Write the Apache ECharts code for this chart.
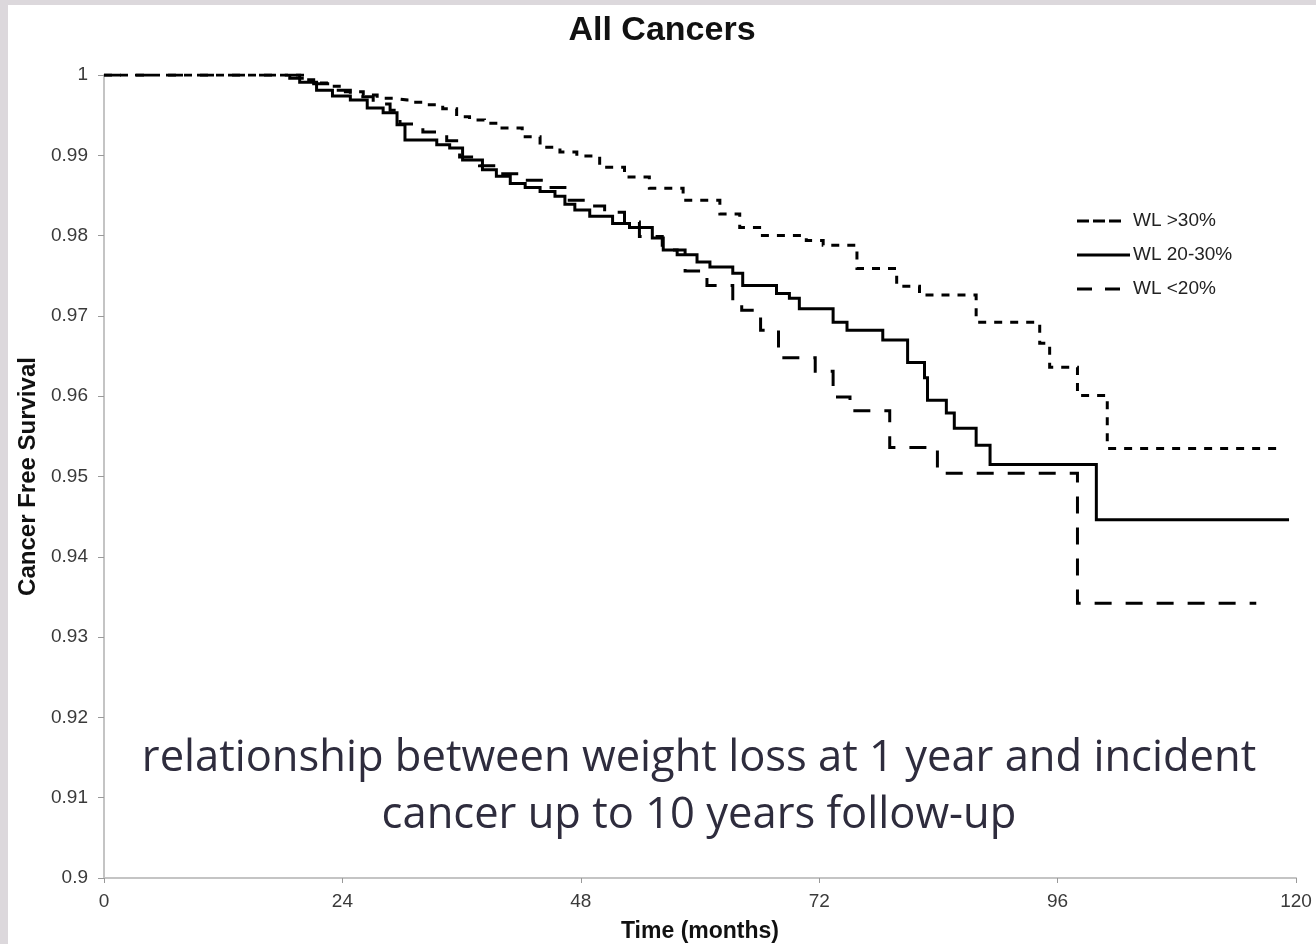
<!DOCTYPE html>
<html>
<head>
<meta charset="utf-8">
<script src="https://cdn.jsdelivr.net/npm/echarts@6/dist/echarts.min.js"></script>
<style>
  html, body { margin: 0; padding: 0; background: #dcd8dc; width: 1316px; height: 944px; overflow: hidden; }
  #chart { position: absolute; left: 8px; top: 5px; width: 1308px; height: 939px; background: #fff; }
</style>
</head>
<body>
<div id="chart"></div>
<script>
// Kaplan-Meier style step curves: each point is the month of a drop and the new survival level.
const seriesNames = ['WL >30%', 'WL 20-30%', 'WL <20%'];

const monthsOver30 = [0, 18.7, 20.2, 21.4, 22.7, 24.3, 26.1, 27.5, 29.1, 30.5, 32.1, 34.1, 35.5, 36.8, 38.3, 39.8, 42.1, 43.9, 45.9, 47.6, 49.9, 52.4, 54.9, 58.3, 62.0, 64.0, 66.0, 70.7, 72.4, 75.8, 79.8, 82.1, 87.8, 94.2, 95.2, 98.0, 101.0, 118.0];
const survOver30   = [1, 1, 0.9994, 0.9990, 0.9986, 0.9979, 0.9975, 0.9971, 0.9969, 0.9966, 0.9963, 0.9958, 0.9948, 0.9944, 0.9940, 0.9934, 0.9923, 0.9910, 0.9904, 0.9899, 0.9885, 0.9873, 0.9859, 0.9844, 0.9827, 0.9810, 0.9800, 0.9794, 0.9788, 0.9759, 0.9737, 0.9726, 0.9692, 0.9666, 0.9636, 0.9601, 0.9535, 0.9535];

const months20to30 = [18.2, 19.7, 21.4, 23.0, 24.8, 26.5, 28.1, 29.5, 30.3, 33.5, 34.8, 36.1, 38.1, 39.5, 40.9, 42.4, 43.9, 45.4, 46.4, 47.4, 48.9, 51.2, 52.9, 55.2, 56.3, 57.7, 59.7, 61.0, 63.3, 64.3, 67.7, 69.0, 70.0, 73.4, 74.8, 78.4, 80.9, 82.6, 82.9, 84.8, 85.6, 87.8, 89.2, 99.9, 119.3];
const surv20to30   = [1, 0.9991, 0.9981, 0.9974, 0.9969, 0.9959, 0.9953, 0.9938, 0.9919, 0.9913, 0.9909, 0.9894, 0.9882, 0.9874, 0.9865, 0.9860, 0.9855, 0.9849, 0.9839, 0.9832, 0.9824, 0.9815, 0.9810, 0.9797, 0.9782, 0.9776, 0.9767, 0.9761, 0.9753, 0.9738, 0.9728, 0.9722, 0.9709, 0.9692, 0.9682, 0.9670, 0.9642, 0.9623, 0.9595, 0.9579, 0.9560, 0.9539, 0.9515, 0.9446, 0.9446];

const monthsUnder20 = [0, 18.7, 20.7, 22.7, 24.8, 27.1, 28.8, 29.8, 32.1, 34.5, 35.8, 37.8, 39.8, 41.9, 44.7, 46.4, 48.4, 50.4, 52.4, 53.9, 56.2, 58.5, 60.7, 63.3, 64.2, 66.1, 67.9, 71.6, 73.4, 75.1, 79.1, 83.9, 98.0, 116.0];
const survUnder20   = [1, 0.9996, 0.9989, 0.9981, 0.9973, 0.9964, 0.9956, 0.9939, 0.9929, 0.9918, 0.9898, 0.9887, 0.9877, 0.9869, 0.9860, 0.9844, 0.9837, 0.9829, 0.9817, 0.9799, 0.9782, 0.9756, 0.9738, 0.9719, 0.9707, 0.9682, 0.9648, 0.9631, 0.9599, 0.9582, 0.9536, 0.9504, 0.9342, 0.9342];

const xTicks = [0, 24, 48, 72, 96, 120];
const yRange = [0.9, 1];

const titleText = 'All Cancers';
const noteLines = ['relationship between weight loss at 1 year and incident', 'cancer up to 10 years follow-up'];

const pairs = (xs, ys) => xs.map((x, i) => [x, ys[i]]);

const chart = echarts.init(document.getElementById('chart'), null, { renderer: 'canvas' });

const axisGray = '#c4c4c4';
const labelColor = '#3a3a3a';
const font = 'Liberation Sans, Arial, Helvetica, sans-serif';
const noteFont = '"Open Sans", "Noto Sans", sans-serif';

// line styles shared by the series and the key
const dashStyles = [[8, 8], 'solid', [17, 14]];
const keyDash = [[12, 4], null, [15, 13]];
const keyLength = [45, 53, 45];

function stepSeries(name, data, dash, width) {
  return {
    name: name,
    type: 'line',
    step: 'end',
    data: data,
    showSymbol: false,
    symbol: 'none',
    silent: true,
    animation: false,
    lineStyle: { color: '#000', width: width, type: dash, cap: 'butt', join: 'miter' },
    itemStyle: { color: '#000' }
  };
}

// key drawn as plain graphic lines + labels at the upper right of the plot
const keyLeft = 1069, keyTop = 216, keyRow = 34;
const keyGraphics = [];
seriesNames.forEach((name, i) => {
  const y = keyTop + i * keyRow;
  keyGraphics.push({
    type: 'line',
    shape: { x1: keyLeft, y1: y, x2: keyLeft + keyLength[i], y2: y },
    style: { stroke: '#000', lineWidth: 3, lineDash: keyDash[i] || null, lineCap: 'butt' }
  });
  keyGraphics.push({
    type: 'text', x: keyLeft + 56, y: y,
    style: { text: name, align: 'left', verticalAlign: 'middle', font: '19px ' + font, fill: '#222' }
  });
});

chart.setOption({
  animation: false,
  backgroundColor: '#fff',
  grid: { left: 96, top: 70, right: 20, bottom: 66, containLabel: false, outerBoundsMode: 'none' },
  xAxis: {
    type: 'value',
    min: xTicks[0],
    max: xTicks[xTicks.length - 1],
    interval: xTicks[1] - xTicks[0],
    name: 'Time (months)',
    nameLocation: 'middle',
    nameGap: 42,
    nameTextStyle: { fontFamily: font, fontWeight: 'bold', fontSize: 23, color: '#111' },
    axisLine: { show: true, lineStyle: { color: axisGray, width: 2 } },
    axisTick: { show: true, length: 5, lineStyle: { color: '#999', width: 1 } },
    axisLabel: { margin: 14, fontFamily: font, fontSize: 19, color: labelColor },
    splitLine: { show: false }
  },
  yAxis: {
    type: 'value',
    min: yRange[0],
    max: yRange[1],
    interval: 0.01,
    name: 'Cancer Free Survival',
    nameLocation: 'middle',
    nameGap: 53,
    nameTextStyle: { fontFamily: font, fontWeight: 'bold', fontSize: 24, color: '#111' },
    axisLine: { show: true, lineStyle: { color: axisGray, width: 2 } },
    axisTick: { show: true, length: 6, lineStyle: { color: '#999', width: 1 } },
    axisLabel: {
      margin: 16, fontFamily: font, fontSize: 19, color: labelColor,
      formatter: v => String(+v.toFixed(2))
    },
    splitLine: { show: false }
  },
  graphic: [
    {
      type: 'text', x: 654, y: 26,
      style: { text: titleText, align: 'center', verticalAlign: 'middle',
               font: 'bold 34px ' + font, fill: '#111' }
    },
    {
      type: 'text', x: 699 - 8, y: 754,
      style: { text: noteLines[0], align: 'center', verticalAlign: 'middle',
               font: '43.5px ' + noteFont, fill: '#2e2c3d' }
    },
    {
      type: 'text', x: 699 - 8, y: 811,
      style: { text: noteLines[1], align: 'center', verticalAlign: 'middle',
               font: '43.5px ' + noteFont, fill: '#2e2c3d' }
    }
  ].concat(keyGraphics),
  series: [
    stepSeries(seriesNames[0], pairs(monthsOver30, survOver30), dashStyles[0], 3),
    stepSeries(seriesNames[1], pairs(months20to30, surv20to30), dashStyles[1], 3),
    stepSeries(seriesNames[2], pairs(monthsUnder20, survUnder20), dashStyles[2], 3)
  ]
});
</script>
</body>
</html>
